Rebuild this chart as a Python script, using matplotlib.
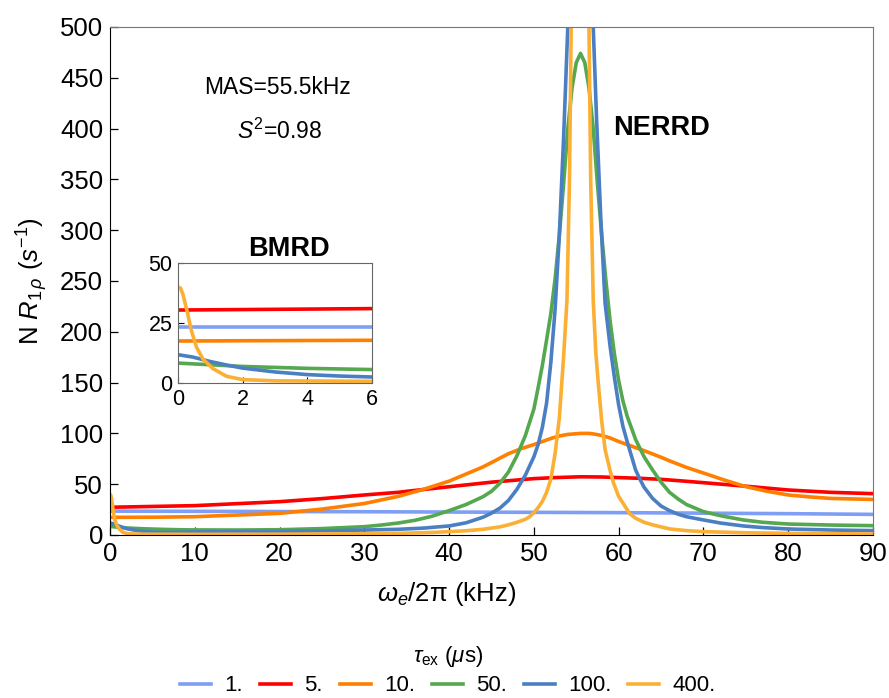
import numpy as np
import matplotlib.pyplot as plt

plt.rcParams['font.family'] = 'Liberation Sans'
plt.rcParams['mathtext.fontset'] = 'custom'
plt.rcParams['mathtext.rm'] = 'Liberation Sans'
plt.rcParams['mathtext.it'] = 'Liberation Sans:italic'
plt.rcParams['mathtext.bf'] = 'Liberation Sans:bold'

# tau_ex values (us) and colours
labels = ['1.', '5.', '10.', '50.', '100.', '400.']
colors = ['#7f9ff6', '#ff0000', '#ff7f00', '#55a84f', '#4a7fc4', '#fbb034']

# main panel: omega_e/2pi (kHz) vs N R1rho (s^-1)
x_1 = [0, 10, 20, 30, 40, 50, 60, 70, 80, 90]
y_1 = [23.5, 23.3, 23.1, 22.9, 22.6, 22.3, 22.0, 21.5, 21.0, 20.3]

x_5 = [0, 10, 20, 25, 30, 34, 35, 40, 45, 50, 52.5, 55.5, 58, 60, 62.5, 65, 67.5, 70, 75, 80, 85, 90]
y_5 = [27.3, 28.9, 32.8, 35.8, 39.4, 42, 43, 47.5, 52, 55.5, 56.5, 57.3, 57.1, 56.5, 55.8, 54.8, 53.2,
       51.5, 48, 44.3, 42, 40.7]

x_10 = [0, 5, 10, 20, 25, 30, 34, 37, 40, 42, 44, 45.5, 47, 48.5, 50, 52, 53, 54, 55.5, 56.5, 57, 58,
        59, 60, 61.5, 63, 65, 66, 68, 70, 72.5, 75, 77.5, 80, 82.5, 85, 90]
y_10 = [17.4, 17.5, 18, 21.3, 25.5, 31, 38, 45, 53, 60, 67, 73.5, 80, 85, 89, 95, 97.5, 99, 100, 100,
        99.5, 98, 95.5, 92, 87.5, 83, 76.5, 73, 66.5, 61, 54, 47.6, 43, 39.4, 37.5, 36, 35]

x_50 = [0, 0.5, 1, 2, 3, 4, 6, 8, 10, 15, 20, 25, 30, 32, 34, 36, 38, 40, 42, 44, 45, 46, 47, 48, 49,
        50, 50.5, 51, 51.5, 52, 52.5, 53, 53.5, 54, 54.5, 55, 55.5, 56, 56.5, 57, 57.5, 58, 58.5, 59,
        59.5, 60, 60.5, 61, 62, 63, 64, 65, 66, 67, 68, 70, 72, 74.7, 77, 80, 85, 90]
y_50 = [8.5, 8.0, 7.6, 6.9, 6.5, 6.1, 5.6, 5.2, 5.0, 4.9, 5.2, 6.3, 8.2, 9.8, 11.8, 14.5, 18.5, 24, 30,
        37.7, 43, 51, 62, 78, 98, 124, 145, 167, 192, 218, 252, 295, 345, 400, 440, 465, 474, 465, 440,
        400, 345, 295, 250, 210, 178, 152, 132, 117, 94, 77, 64, 52, 42, 35.5, 30, 23, 19, 14.8, 12.5,
        10.8, 9.8, 9.2]

x_100 = [0, 0.5, 1, 1.5, 2, 3, 4, 6, 10, 20, 25, 30, 34, 37, 40, 42, 44, 45, 46, 47, 48, 49, 50, 50.5,
         51, 51.5, 52, 52.5, 53, 53.5, 54, 54.5, 55, 55.5, 56, 56.5, 57, 57.4, 57.9, 58.4, 59, 59.5, 60,
         60.5, 61, 61.5, 62, 62.5, 63, 64, 65, 66, 67, 68, 70, 72, 74.7, 77, 80, 85, 90]
y_100 = [11.8, 10.8, 9.0, 7.5, 6.2, 4.6, 3.5, 2.5, 3.0, 3.5, 4.0, 4.9, 5.6, 6.8, 8.9, 12, 17.5, 21.5,
         26.5, 34, 45, 59, 77, 89, 106, 130, 170, 222, 295, 390, 500, 620, 750, 820, 750, 620, 500, 408,
         310, 228, 185, 155, 128, 107, 92, 78, 64, 55, 47, 36, 28.5, 24, 20.5, 18, 14.8, 11.8, 8.9, 7.3,
         5.9, 4.9, 4.3]

x_400 = [0, 0.08, 0.15, 0.28, 0.41, 0.57, 0.77, 1.08, 1.5, 2, 3, 4, 10, 20, 30, 34, 38, 40, 42, 44, 46,
         47, 48, 49, 49.5, 50, 50.5, 51, 51.5, 52, 52.5, 53, 53.5, 53.9, 54.2, 54.4, 54.9, 55.45, 56.0,
         56.5, 56.7, 57.0, 57.3, 57.6, 58, 58.4, 59, 59.4, 60, 61.3, 62, 63, 64, 64.9, 66, 68, 70, 75,
         80, 90]
y_400 = [40, 39.5, 37, 30, 22, 15, 10, 6, 2.8, 1.4, 0.9, 0.8, 0.7, 0.8, 1.2, 1.6, 2.5, 3.3, 4.2, 5.6, 8,
         10, 12.5, 15.5, 18, 22, 27, 33, 42, 55, 80, 115, 175, 231, 350, 500, 1100, 1500, 1100,
         500, 350, 231, 180, 149, 112, 84, 63, 51, 38, 21, 16.5, 12.5, 10, 8.2, 6, 4.3, 3.3, 2.2,
         1.6, 1.0]

# inset (BMRD region, 0-6 kHz)
in_x_1 = [0, 6]
in_y_1 = [23.2, 23.2]
in_x_5 = [0, 6]
in_y_5 = [30.4, 31.0]
in_x_10 = [0, 6]
in_y_10 = [17.5, 17.8]
in_x_50 = [0, 1, 2, 3, 4, 6]
in_y_50 = [8.3, 7.6, 6.9, 6.5, 6.1, 5.6]
in_x_100 = [0, 0.46, 0.98, 1.5, 2, 3, 4, 5, 6]
in_y_100 = [11.8, 10.8, 9, 7.5, 6.2, 4.6, 3.5, 2.9, 2.5]
in_x_400 = [0, 0.08, 0.15, 0.28, 0.41, 0.57, 0.77, 1.08, 1.5, 2, 3, 6]
in_y_400 = [40, 39.5, 37, 30, 22, 15, 10, 6, 2.8, 1.4, 0.9, 0.7]

main = [(x_1, y_1), (x_5, y_5), (x_10, y_10), (x_50, y_50), (x_100, y_100), (x_400, y_400)]
inset = [(in_x_1, in_y_1), (in_x_5, in_y_5), (in_x_10, in_y_10),
         (in_x_50, in_y_50), (in_x_100, in_y_100), (in_x_400, in_y_400)]

fig = plt.figure(figsize=(8.89, 6.98), dpi=100)
ax = fig.add_axes([110/889, 1-535/698, 763/889, 508/698])

handles = []
for (xs, ys), c, lab in zip(main, colors, labels):
    h, = ax.plot(xs, ys, color=c, lw=2.6, label=lab, solid_joinstyle='round')
    handles.append(h)

ax.set_xlim(0, 90)
ax.set_ylim(0, 500)
ax.set_xticks(range(0, 91, 10))
ax.set_yticks(range(0, 501, 50))
ax.tick_params(direction='in', length=6, width=0.9, labelsize=18.5, pad=5)
for s in ['top', 'right']:
    ax.spines[s].set_color('#777777')
ax.set_ylabel(r'N $R_{1\,\rho}$ $(s^{-1})$', fontsize=18.5)
ax.yaxis.set_label_coords(-0.078, 0.5)

fig.text(447/889, 1-594/698, r'$\omega_e$/2$\mathrm{\pi}$ (kHz)', ha='center', va='center', fontsize=18.5)

ax.text(19.8, 440, 'MAS=55.5kHz', ha='center', va='center', fontsize=16.5)
ax.text(20.0, 397.6, r'$S^2$=0.98', ha='center', va='center', fontsize=16.5)
ax.text(65.0, 400.6, 'NERRD', ha='center', va='center', fontsize=19.5, fontweight='bold')

# inset
ax_in = fig.add_axes([178/889, 1-383/698, 194/889, 120/698])
for (xs, ys), c in zip(inset, colors):
    ax_in.plot(xs, ys, color=c, lw=2.6, solid_joinstyle='round')
ax_in.set_xlim(0, 6)
ax_in.set_ylim(0, 50)
ax_in.set_xticks([0, 2, 4, 6])
ax_in.set_yticks([0, 25, 50])
ax_in.tick_params(direction='in', length=4, width=0.8, labelsize=15.5, pad=4)
for s in ax_in.spines.values():
    s.set_color('#666666')
ax_in.text(0.57, 1.117, 'BMRD', transform=ax_in.transAxes, ha='center', va='center',
           fontsize=19.5, fontweight='bold')

fig.legend(handles, labels, ncol=6, loc='center', bbox_to_anchor=(448/889, 1-670/698),
           frameon=False, fontsize=16, title=r'$\tau_{\mathrm{ex}}$ ($\mu$s)', title_fontsize=16,
           handlelength=1.4, handletextpad=0.6, columnspacing=0.75, borderpad=0.2, labelspacing=0.3)

fig.savefig('out.png', dpi=100)
